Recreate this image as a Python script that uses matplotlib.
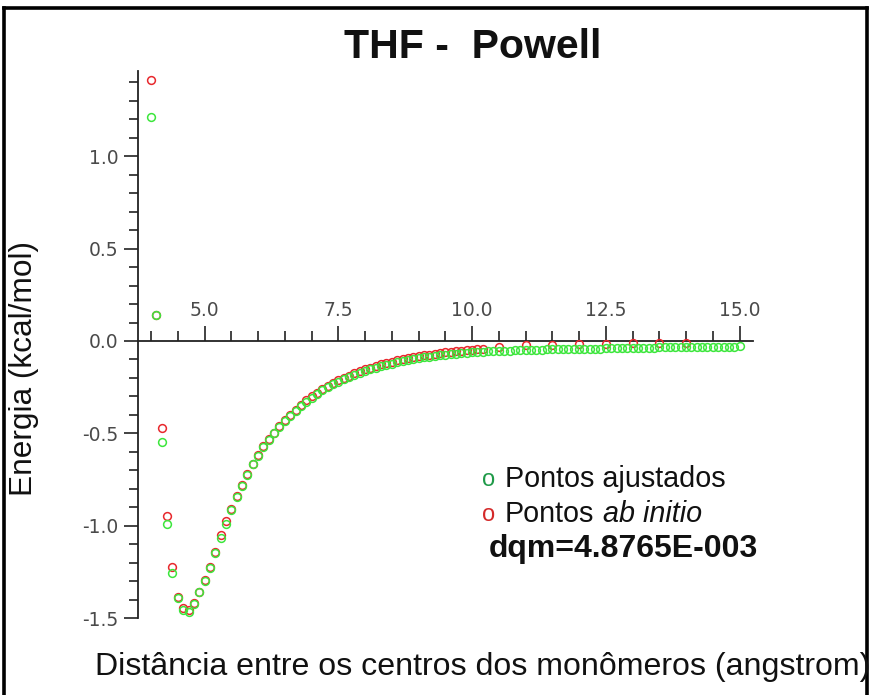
import numpy as np
import matplotlib
matplotlib.use("Agg")
import matplotlib.pyplot as plt
from matplotlib.ticker import FixedLocator, FixedFormatter
from matplotlib.lines import Line2D

plt.rcParams['font.family'] = ['Liberation Sans', 'DejaVu Sans']

# ---- data ----
x_fit = np.round(np.arange(4.0, 15.01, 0.1), 1)
y_fit = [1.214, 0.141, -0.548, -0.991, -1.254, -1.392, -1.455, -1.465, -1.425, -1.360,
         -1.300, -1.230, -1.150, -1.065, -0.990, -0.915, -0.845, -0.785, -0.725, -0.668,
         -0.620, -0.574, -0.535, -0.500, -0.465, -0.435, -0.405, -0.378, -0.352, -0.328,
         -0.306, -0.286, -0.268, -0.250, -0.234, -0.220, -0.207, -0.195, -0.184, -0.173,
         -0.163, -0.154, -0.145, -0.137, -0.129, -0.122, -0.116, -0.110, -0.104, -0.099,
         -0.094, -0.089, -0.085, -0.081, -0.077, -0.074, -0.071, -0.068, -0.065, -0.063,
         -0.060,
         -0.058, -0.057, -0.056, -0.055, -0.054, -0.053, -0.052, -0.051, -0.050, -0.049,
         -0.048, -0.048, -0.047, -0.046, -0.046, -0.045, -0.044, -0.044, -0.043, -0.043,
         -0.042, -0.042, -0.041, -0.041, -0.040, -0.040, -0.039, -0.039, -0.038, -0.038,
         -0.037, -0.037, -0.036, -0.036, -0.035, -0.035, -0.034, -0.034, -0.034, -0.033,
         -0.033, -0.032, -0.032, -0.032, -0.031, -0.031, -0.030, -0.030, -0.030, -0.029]

x_abi_dense = np.round(np.arange(4.0, 10.21, 0.1), 1)
x_abi_sparse = [10.5, 11.0, 11.5, 12.0, 12.5, 13.0, 13.5, 14.0]
x_abi = list(x_abi_dense) + x_abi_sparse
y_abi = [1.413, 0.141, -0.473, -0.947, -1.225, -1.384, -1.445, -1.455, -1.420, -1.357,
         -1.294, -1.222, -1.141, -1.050, -0.975, -0.910, -0.840, -0.780, -0.720, -0.665,
         -0.615, -0.570, -0.532, -0.497, -0.462, -0.430, -0.400, -0.372, -0.346, -0.322,
         -0.300, -0.280, -0.261, -0.244, -0.228, -0.213, -0.200, -0.187, -0.175, -0.164,
         -0.154, -0.144, -0.135, -0.127, -0.119, -0.112, -0.105, -0.099, -0.093, -0.088,
         -0.083, -0.078, -0.074, -0.070, -0.066, -0.062, -0.059, -0.056, -0.053, -0.050,
         -0.047, -0.045, -0.043,
         -0.035, -0.024, -0.021, -0.017, -0.014, -0.011, -0.010, -0.009]

xticks_major = [5.0, 7.5, 10.0, 12.5, 15.0]
xtick_labels = ["5.0", "7.5", "10.0", "12.5", "15.0"]
yticks_major = [-1.5, -1.0, -0.5, 0.0, 0.5, 1.0]
ytick_labels = ["-1.5", "-1.0", "-0.5", "0.0", "0.5", "1.0"]

W, H = 872, 695
fig = plt.figure(figsize=(W / 100, H / 100), dpi=100)
fig.patch.set_facecolor('white')

# axes placement (pixel mapping)
x0, x1 = 3.75, 15.25
y0, y1 = -1.5, 1.46
left_px, right_px = 137.7, 137.7 + (x1 - x0) * 53.5
bot_px, top_px = 341 + 1.5 * 184.7, 341 - y1 * 184.7
ax = fig.add_axes([left_px / W, 1 - bot_px / H, (right_px - left_px) / W, (bot_px - top_px) / H])
ax.set_xlim(x0, x1)
ax.set_ylim(y0, y1)
ax.patch.set_alpha(0)

for s in ['top', 'right']:
    ax.spines[s].set_visible(False)
ax.spines['bottom'].set_position(('data', 0))
for s in ['left', 'bottom']:
    ax.spines[s].set_color('#222222')
    ax.spines[s].set_linewidth(1.3)

ax.xaxis.set_major_locator(FixedLocator(xticks_major))
ax.xaxis.set_major_formatter(FixedFormatter(xtick_labels))
ax.xaxis.set_minor_locator(FixedLocator([v / 2 for v in range(8, 31)]))
ax.yaxis.set_major_locator(FixedLocator(yticks_major))
ax.yaxis.set_major_formatter(FixedFormatter(ytick_labels))
ax.yaxis.set_minor_locator(FixedLocator([v / 10 for v in range(-15, 15)]))

ax.tick_params(axis='x', which='major', direction='in', length=11, width=1.2, color='#222222',
               pad=-29, labelsize=13.5, labelcolor='#4a4a4a', labelfontfamily='DejaVu Sans')
ax.tick_params(axis='x', which='minor', direction='in', length=7, width=1.2, color='#222222')
ax.tick_params(axis='y', which='major', direction='out', length=10, width=1.2, color='#222222',
               pad=4, labelsize=13.5, labelcolor='#4a4a4a', labelfontfamily='DejaVu Sans')
ax.tick_params(axis='y', which='minor', direction='out', length=6.5, width=1.2, color='#222222')

ax.plot(x_abi, y_abi, linestyle='none', marker='o', ms=5.6, mfc='none', mec='#e8282d',
        mew=1.1, clip_on=False, zorder=3)
ax.plot(x_fit, y_fit, linestyle='none', marker='o', ms=5.6, mfc='none', mec='#3ce63c',
        mew=1.1, clip_on=False, zorder=4)

# texts
fig.text(473 / W, 1 - 58 / H, "THF -  Powell", ha='center', va='baseline',
         fontsize=29.5, fontweight='bold', color='#111111')
fig.text(24 / W, 1 - 369 / H, "Energia (kcal/mol)", rotation=90, ha='center', va='center',
         fontsize=22.8, color='#111111')
fig.text(95 / W, 1 - 675 / H, "Distância entre os centros dos monômeros (angstrom)",
         ha='left', va='baseline', fontsize=23.1, color='#111111')

# legend-like annotation
fig.text(489 / W, 1 - 486 / H, "o", ha='center', va='baseline', fontsize=17, color='#1f9a48')
fig.text(505 / W, 1 - 487 / H, "Pontos ajustados", ha='left', va='baseline', fontsize=20.7,
         color='#111111')
fig.text(489 / W, 1 - 521 / H, "o", ha='center', va='baseline', fontsize=17, color='#d42a2a')
fig.text(505 / W, 1 - 522 / H, "Pontos", ha='left', va='baseline', fontsize=20.7, color='#111111')
fig.text(603 / W, 1 - 522 / H, "ab initio", ha='left', va='baseline', fontsize=20.7,
         style='italic', color='#111111')
fig.text(489 / W, 1 - 557 / H, "dqm=4.8765E-003", ha='left', va='baseline', fontsize=23,
         fontweight='bold', color='#111111')

# frame border
for (xa, ya, xb, yb) in [(4, 695, 4, 8), (4, 8, 867, 8), (867, 8, 867, 695)]:
    fig.add_artist(Line2D([xa / W, xb / W], [1 - ya / H, 1 - yb / H], color='black',
                          linewidth=2.6, transform=fig.transFigure))

fig.savefig("out.png", dpi=100, facecolor='white')
